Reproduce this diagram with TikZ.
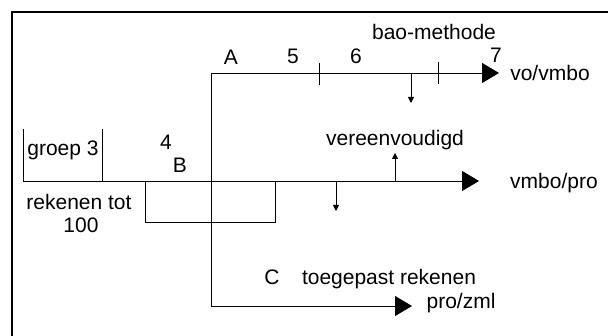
\documentclass[tikz,border=0pt]{standalone}
\usepackage{fontspec}
\setmainfont{Liberation Sans}
\usetikzlibrary{arrows.meta}
\begin{document}
\begin{tikzpicture}[x=1pt,y=-1pt,
  line/.style={line width=0.8pt},
  bigarrow/.style={line width=0.8pt,-{Triangle[length=17pt,width=20pt]}},
  smallarrow/.style={line width=0.8pt,-{Triangle[length=6pt,width=6pt]}},
  lbl/.style={inner sep=0pt,anchor=base,font=\fontsize{21}{25}\selectfont}]
\useasboundingbox (0,0) rectangle (608,336);
% frame
\draw[line width=1.2pt] (608,12) -- (12,12) -- (12,336);
% coordinates
\coordinate (Atop) at (211,73);
\coordinate (Aend) at (499,73);
\coordinate (Cend) at (412,306);
\coordinate (Mstart) at (23,181);
\coordinate (Mend) at (479,181);
% main lines
\draw[bigarrow] (Atop) -- (Aend);
\draw[bigarrow] (Atop) |- (Cend);
\draw[bigarrow] (Mstart) -- (Mend);
% groep 3 box
\draw[line] (23,129) -- (Mstart);
\draw[line] (102,129) -- (102,181);
% lower box
\draw[line] (145,181) rectangle (275,222);
% ticks
\draw[line] (319,63) -- (319,85);
\draw[line] (438,62) -- (438,84);
% small arrows
\draw[smallarrow] (411,73) -- (411,103);
\draw[smallarrow] (395,181) -- (395,153);
\draw[smallarrow] (336,181) -- (336,211);
% labels
\node[lbl] (bao) at (434,40) {bao-methode};
\node[lbl] (A) at (231,65) {A};
\node[lbl] (n5) at (293,64) {5};
\node[lbl] (n6) at (356,64) {6};
\node[lbl] (n7) at (496,63) {7};
\node[lbl] (vovmbo) at (550,81) {vo/vmbo};
\node[lbl] (vereen) at (395,146) {vereenvoudigd};
\node[lbl] (groep) at (63,156) {groep 3};
\node[lbl] (n4) at (166,150) {4};
\node[lbl] (B) at (180,173) {B};
\node[lbl] (rek) at (79,210) {rekenen tot};
\node[lbl] (hond) at (81,233) {100};
\node[lbl] (vmbopro) at (554,189) {vmbo/pro};
\node[lbl] (C) at (272,285) {C};
\node[lbl] (toeg) at (389,285) {toegepast rekenen};
\node[lbl] (prozml) at (461,309) {pro/zml};
\end{tikzpicture}
\end{document}
